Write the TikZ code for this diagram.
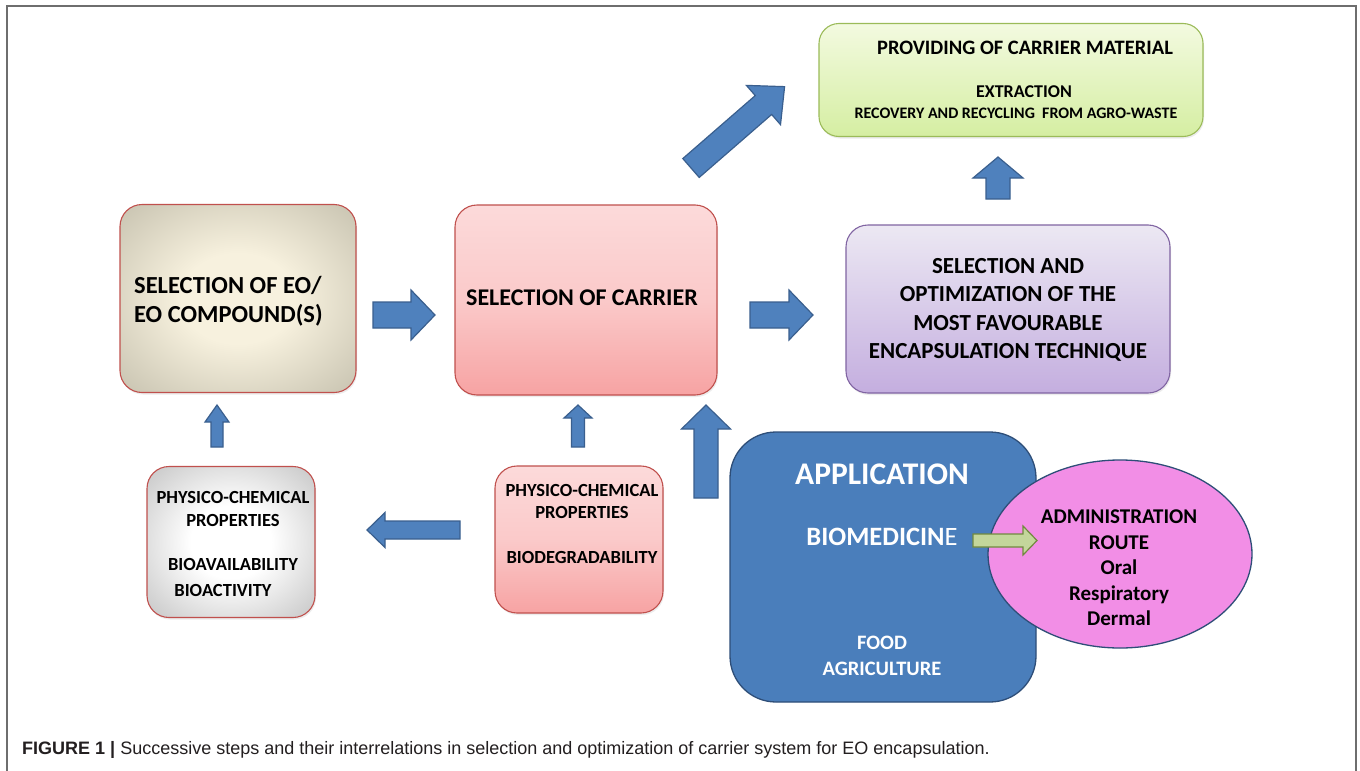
\documentclass[tikz,border=0pt]{standalone}
\usepackage{fontspec}
\setmainfont{Carlito}
\newfontfamily\capfont{Liberation Sans}
\usetikzlibrary{shadows,shapes.geometric}
\definecolor{eoIn}{HTML}{F7F1DE}
\definecolor{eoOut}{HTML}{9A9684}
\definecolor{pinkTop}{HTML}{FCDADA}
\definecolor{pinkBot}{HTML}{F7A3A3}
\definecolor{lavTop}{HTML}{ECE8F3}
\definecolor{lavBot}{HTML}{C4AEDF}
\definecolor{grnTop}{HTML}{F3FAE0}
\definecolor{grnBot}{HTML}{D5EEA2}
\definecolor{grnBorder}{HTML}{9BBB59}
\definecolor{grayOut}{HTML}{8A8A8A}
\definecolor{redBorder}{HTML}{C0504D}
\definecolor{lavBorder}{HTML}{8064A2}
\definecolor{arrBlue}{HTML}{4F81BD}
\definecolor{arrBorder}{HTML}{3A5F8E}
\definecolor{appBlue}{HTML}{4A7EBB}
\definecolor{appBorder}{HTML}{2E4E78}
\definecolor{ellPink}{HTML}{F28EE6}
\definecolor{gArrFill}{HTML}{C3D69B}
\definecolor{gArrBorder}{HTML}{71893F}
\definecolor{frameGray}{HTML}{6E6E6E}
\definecolor{capText}{HTML}{231F20}
\pgfdeclareradialshading{eoshade}{\pgfpoint{0bp}{0bp}}{color(0bp)=(eoIn); color(12bp)=(eoIn); color(58bp)=(eoOut); color(75bp)=(eoOut)}
\pgfdeclareradialshading{grayshade}{\pgfpoint{0bp}{0bp}}{color(0bp)=(white); color(12bp)=(white); color(60bp)=(grayOut); color(75bp)=(grayOut)}
% block arrow: name, tail x, tail y, angle, length, head length, half shaft, half head, style
\newcommand\blkarrow[9]{%
  \begin{scope}[shift={(#2,#3)},rotate=#4]
    \draw[#9] (0,-#7) -- (#5-#6,-#7) -- (#5-#6,-#8) -- (#5,0) -- (#5-#6,#8) -- (#5-#6,#7) -- (0,#7) -- cycle;
    \coordinate (#1) at (#5,0);
  \end{scope}}
\begin{document}
\begin{tikzpicture}[x=1pt,y=-1pt,
  boxbase/.style={rectangle, rounded corners=22pt, line width=1.1pt, inner sep=0pt,
    drop shadow={shadow xshift=1pt, shadow yshift=-2pt, opacity=0.15}},
  redbox/.style={boxbase, draw=redBorder},
  pinkfill/.style={top color=pinkTop, bottom color=pinkBot, middle color=pinkTop!70!pinkBot},
  blk/.style={fill=arrBlue, draw=arrBorder, line width=1.2pt, line join=miter},
  garr/.style={fill=gArrFill, draw=gArrBorder, line width=1.2pt},
  txt/.style={inner sep=0pt, align=center, text=black, font=\bfseries},
  wtxt/.style={inner sep=0pt, align=center, text=white, font=\bfseries}]
\useasboundingbox (0,0) rectangle (1360,771);
\fill[white] (0,0) rectangle (1360,771);
\draw[frameGray, line width=1.6pt] (7,771) -- (7,6) -- (1356,6) -- (1356,771);

% boxes
\node[redbox, minimum width=236pt, minimum height=188pt, shading=eoshade] (eo) at (238,298.5) {};
\node[redbox, pinkfill, minimum width=262pt, minimum height=190pt] (carrier) at (586,300) {};
\node[boxbase, draw=lavBorder, top color=lavTop, bottom color=lavBot, minimum width=324pt, minimum height=168pt] (tech) at (1008,309) {};
\node[boxbase, draw=grnBorder, top color=grnTop, bottom color=grnBot, rounded corners=20pt, minimum width=384pt, minimum height=113pt] (provide) at (1011,80) {};
\node[redbox, shading=grayshade, minimum width=168pt, minimum height=151pt] (props) at (231,542) {};
\node[redbox, pinkfill, minimum width=168pt, minimum height=147pt] (cprops) at (579,539.5) {};
\node[rectangle, rounded corners=46pt, fill=appBlue, draw=appBorder, line width=1.3pt, minimum width=306pt, minimum height=270pt] (app) at (883,567) {};
\node[ellipse, fill=ellPink, draw=appBorder, line width=1.3pt, minimum width=264pt, minimum height=188pt, inner sep=0pt] (route) at (1120,554) {};

% texts
\node[txt, anchor=west, align=left, font=\bfseries\fontsize{24.5}{29}\selectfont] (eoT) at (134,301) {SELECTION OF EO/\\EO COMPOUND(S)};
\node[txt, font=\bfseries\fontsize{24}{29}\selectfont] (carrierT) at (582,298) {SELECTION OF CARRIER};
\node[txt, font=\bfseries\fontsize{23}{28.4}\selectfont] (techT) at (1008,310) {SELECTION AND\\OPTIMIZATION OF THE\\MOST FAVOURABLE\\ENCAPSULATION TECHNIQUE};
\node[txt, font=\bfseries\fontsize{20.5}{24}\selectfont] (provT) at (1025,48) {PROVIDING OF CARRIER MATERIAL};
\node[txt, font=\bfseries\fontsize{18}{22}\selectfont] (extrT) at (1024,92) {EXTRACTION};
\node[txt, font=\bfseries\fontsize{16}{20}\selectfont] (recT) at (1016,113) {RECOVERY AND RECYCLING\ \ FROM AGRO-WASTE};
\node[txt, font=\bfseries\fontsize{18.5}{23}\selectfont] (propsT) at (233,544) {PHYSICO-CHEMICAL\\PROPERTIES\\[21pt]BIOAVAILABILITY\\[3pt]BIOACTIVITY\hspace*{20pt}};
\node[txt, font=\bfseries\fontsize{18.5}{22.5}\selectfont] (cpropsT) at (582,524) {PHYSICO-CHEMICAL\\PROPERTIES\\[22.5pt]BIODEGRADABILITY};
\node[wtxt, font=\bfseries\fontsize{31.5}{36}\selectfont] (appT) at (882,474) {APPLICATION};
\node[wtxt, font=\bfseries\fontsize{26.5}{30}\selectfont] (bioT) at (882,537) {BIOMEDICIN{\mdseries E}};
\node[wtxt, font=\bfseries\fontsize{20.5}{25.5}\selectfont] (foodT) at (882,656) {FOOD\\AGRICULTURE};
\node[txt, font=\bfseries\fontsize{21}{25.5}\selectfont] (routeT) at (1119,568) {ADMINISTRATION\\ROUTE\\Oral\\Respiratory\\Dermal};

% block arrows
\blkarrow{a1}{373}{315}{0}{62}{24}{13}{25}{blk}
\blkarrow{a2}{750}{315}{0}{63}{24}{13}{25}{blk}
\blkarrow{a3}{998}{199}{90}{42}{21}{12}{25}{blk}
\blkarrow{a4}{691}{168}{41}{124}{28}{12.5}{26}{blk}
\blkarrow{a5}{217}{447}{90}{42}{17}{6}{12}{blk}
\blkarrow{a6}{578}{447}{90}{42}{13}{6.5}{14}{blk}
\blkarrow{a7}{460}{530}{180}{93}{18}{9}{17.5}{blk}
\blkarrow{a8}{706}{498}{90}{93}{24}{12}{24.5}{blk}
\blkarrow{a9}{973}{540.5}{0}{64}{14}{6.5}{14.5}{garr}

% caption
\node[anchor=base west, inner sep=0pt, text=capText, font=\capfont\fontsize{18}{22}\selectfont] (cap) at (22,754) {\textbf{FIGURE 1} \textbf{|} Successive steps and their interrelations in selection and optimization of carrier system for EO encapsulation.};
\end{tikzpicture}
\end{document}
